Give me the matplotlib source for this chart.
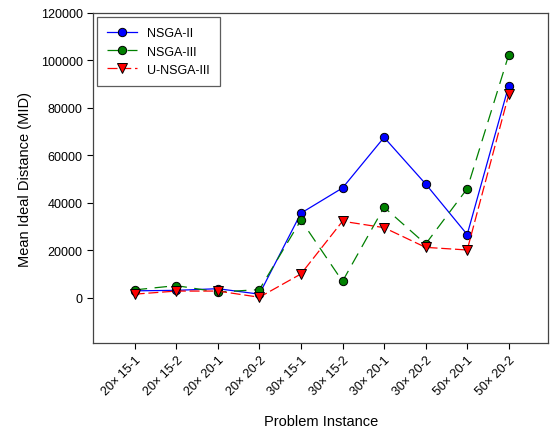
import numpy as np
import matplotlib.pyplot as plt

plt.rcParams['font.family'] = ['Liberation Sans', 'DejaVu Sans']

instances = ['20× 15-1', '20× 15-2', '20× 20-1', '20× 20-2', '30× 15-1',
             '30× 15-2', '30× 20-1', '30× 20-2', '50× 20-1', '50× 20-2']
nsga2 = [3000, 3200, 3900, 1600, 35700, 46300, 67600, 48000, 26700, 89400]
nsga3 = [3400, 5200, 2500, 3500, 32800, 7000, 38200, 22700, 46000, 102400]
unsga3 = [1600, 2900, 2900, 300, 10100, 32300, 29600, 21300, 20200, 85700]

x = np.arange(1, len(instances) + 1)

fig = plt.figure(figsize=(5.51, 4.35), dpi=100)
ax = fig.add_axes([0.169, 0.209, 0.826, 0.759])

ax.plot(x, nsga2, color='blue', lw=0.9, marker='o', ms=6,
        mfc='blue', mec='black', mew=0.7, label='NSGA-II', zorder=3)
ax.plot(x, nsga3, color='green', lw=0.9, ls=(0, (10, 6)), marker='o', ms=6,
        mfc='green', mec='black', mew=0.7, label='NSGA-III', zorder=3)
ax.plot(x, unsga3, color='red', lw=0.9, ls=(0, (8, 3)), marker='v', ms=6.5,
        mfc='red', mec='black', mew=0.7, label='U-NSGA-III', zorder=3)

ax.set_xlim(0, 10.95)
ax.set_ylim(-19000, 120000)
ax.set_yticks(np.arange(0, 120001, 20000))
ax.set_xticks(x)
ax.set_xticklabels(instances, rotation=45, ha='right', rotation_mode='anchor', fontsize=9)
ax.tick_params(axis='y', labelsize=9, direction='out', length=4)
ax.tick_params(axis='x', direction='out', length=4)
for s in ax.spines.values():
    s.set_linewidth(0.9)
    s.set_color('#444444')

ax.set_xlabel('Problem Instance', fontsize=10.5, labelpad=12)
ax.set_ylabel('Mean Ideal Distance (MID)', fontsize=10.5, labelpad=6)

leg = ax.legend(loc='upper left', fontsize=9, fancybox=False, edgecolor='#333333',
                borderaxespad=0.35, handlelength=2.4, labelspacing=0.5,
                borderpad=0.8)
leg.get_frame().set_linewidth(0.9)

fig.savefig('out.png', dpi=100)
